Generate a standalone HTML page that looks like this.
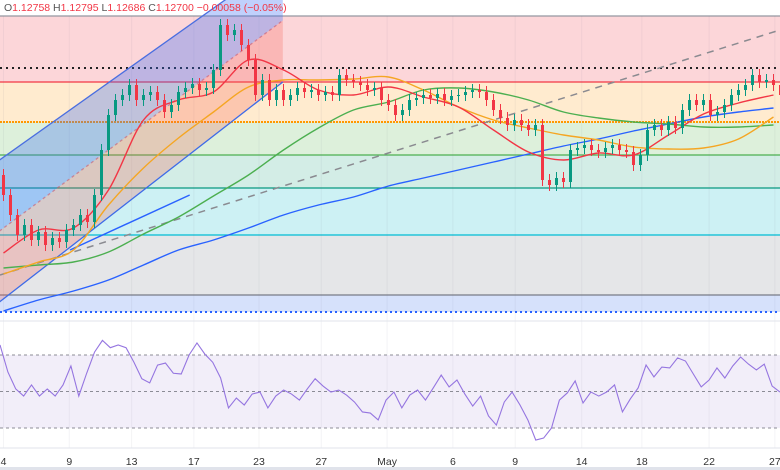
<!DOCTYPE html>
<html><head><meta charset="utf-8"><style>
html,body{margin:0;padding:0;background:#fff;width:780px;height:470px;overflow:hidden}
svg{display:block;font-family:"Liberation Sans",sans-serif}
</style></head><body>
<svg id="chart" width="780" height="470" viewBox="0 0 780 470" xmlns="http://www.w3.org/2000/svg">
<g id="bands"></g>
<g id="grid"></g>
<g id="channel"></g>
<g id="mas"></g>
<g id="candles"></g>
<g id="rsi"></g>
<g id="xaxis"></g>
<text x="4" y="11" font-size="10.5" fill="#f23645"><tspan fill="#555">O</tspan>1.12758 <tspan fill="#555">H</tspan>1.12795 <tspan fill="#555">L</tspan>1.12686 <tspan fill="#555">C</tspan>1.12700 −0.00058 (−0.05%)</text>
</svg>
<script>
const closes=[1.1121,1.1101,1.1081,1.1091,1.1076,1.1084,1.1071,1.1078,1.1074,1.1086,1.1091,1.1101,1.1094,1.1121,1.1166,1.1201,1.1216,1.1221,1.1231,1.1216,1.1221,1.1224,1.1216,1.1204,1.1211,1.1224,1.1228,1.1232,1.1226,1.1228,1.1246,1.1291,1.1281,1.1286,1.1271,1.1256,1.1221,1.1236,1.1216,1.1226,1.1216,1.1221,1.1228,1.1224,1.1226,1.1221,1.1224,1.1221,1.1241,1.1236,1.1234,1.1231,1.1226,1.1228,1.1216,1.1211,1.1201,1.1206,1.1216,1.1218,1.1221,1.1218,1.1222,1.1216,1.1220,1.1221,1.1224,1.1226,1.1224,1.1216,1.1206,1.1198,1.1191,1.1196,1.1191,1.1186,1.1191,1.1136,1.1131,1.1138,1.1134,1.1166,1.1168,1.1171,1.1166,1.1164,1.1168,1.1171,1.1166,1.1164,1.1151,1.1161,1.1186,1.1191,1.1186,1.1194,1.1188,1.1206,1.1216,1.1211,1.1216,1.1201,1.1204,1.1211,1.1221,1.1226,1.1231,1.1241,1.1234,1.1236,1.1231,1.1221];
const firstOpen=1.1141;
const maRed=[1.1063,1.1086,1.1088,1.1126,1.1196,1.1216,1.1224,1.1256,1.1246,1.1226,1.1221,1.1229,1.1219,1.1209,1.1186,1.1164,1.1156,1.1163,1.1161,1.1181,1.1202,1.1213,1.1221];
const maOrange=[1.1042,1.1054,1.1066,1.1111,1.1148,1.1178,1.1204,1.1229,1.1236,1.1236,1.1237,1.1239,1.1226,1.1209,1.1196,1.1188,1.1181,1.1176,1.1169,1.1167,1.1168,1.1177,1.1199];
const maGreen=[1.1048,1.1051,1.1054,1.1064,1.1082,1.1099,1.1120,1.1141,1.1166,1.1188,1.1206,1.1214,1.1226,1.1228,1.1224,1.1216,1.1204,1.1198,1.1194,1.1192,1.1189,1.1189,1.1191];
const maBlue=[1.1005,1.1016,1.1025,1.1036,1.1051,1.1066,1.1076,1.1088,1.1101,1.1111,1.1119,1.1130,1.1138,1.1146,1.1154,1.1162,1.1170,1.1177,1.1185,1.1192,1.1199,1.1204,1.1208];
const fibLevels=[1.1300,1.1234,1.1194,1.1161,1.1128,1.1081,1.1021,1.1004];
const dottedLevel=1.1248;
const rsiValues=[75.5,60.7,51.4,47.5,53.6,47.5,51.4,47.5,53.6,64,47.5,60,71.6,78,74,75.5,74,66,57,54.7,64.5,65.6,60,59.6,70,76.6,70.5,66,57.4,41,46.4,42.6,48.6,49.7,41,47.5,50.8,48.6,45.3,51.4,57,53,49.7,50.8,48,44.2,38.8,38.2,34.4,45.3,49.7,41,48,50.8,45.3,52,59,52.5,56.3,48.6,42,47.5,36.6,31.6,44.2,49.7,42.6,34.4,23.4,24.5,30,45.3,49.2,55.8,43.7,49.7,47.5,49.7,53.6,38.8,45.9,52,64.5,58,63.4,62.9,68.4,66.7,59.6,52.5,56.3,62.9,57.4,64,68.9,65,61.8,65,53,49.7];
const dateLabels=["4","9","13","17","23","27","May","6","9","14","18","22","27"];
const dateIdx=[0,9.4,18.3,27.2,36.5,45.4,54.8,64.2,73.1,82.6,91.2,100.8,110.2];

const NS="http://www.w3.org/2000/svg";
const step=7, x0=3.5;
const X=i=>x0+i*step;
const Y=v=>(1.1316-v)*10000;
const RY=r=>428-(r-30)*73/40;
function mk(tag,attrs,parent){const e=document.createElementNS(NS,tag);for(const k in attrs)e.setAttribute(k,attrs[k]);parent.appendChild(e);return e;}
function smooth(pts){let d=`M${pts[0][0]},${pts[0][1]}`;for(let i=0;i<pts.length-1;i++){const p0=pts[Math.max(0,i-1)],p1=pts[i],p2=pts[i+1],p3=pts[Math.min(pts.length-1,i+2)];
d+=` C${p1[0]+(p2[0]-p0[0])/6},${p1[1]+(p2[1]-p0[1])/6} ${p2[0]-(p3[0]-p1[0])/6},${p2[1]-(p3[1]-p1[1])/6} ${p2[0]},${p2[1]}`;}return d;}

const bands=document.getElementById('bands');
const bandCols=["#fcd6d9","#ffebcf","#ddf0db","#d3ede6","#cdf1f4","#e5e6e8","#d6e1fb"];
const lineCols=["#9598a1","#f23645","#ff9800","#4caf50","#089981","#00bcd4","#787b86","#2962ff"];
for(let k=0;k<bandCols.length;k++){
  const r=mk('rect',{x:0,y:Y(fibLevels[k]),width:780,height:Y(fibLevels[k+1])-Y(fibLevels[k]),fill:bandCols[k]},bands);
  
  
}
for(let k=0;k<fibLevels.length;k++){
  const a={x1:0,x2:780,y1:Y(fibLevels[k]),y2:Y(fibLevels[k]),stroke:lineCols[k],'stroke-width':k==2?2:1.3};
  if(k==2)a['stroke-dasharray']='2 1';
  if(k==7){a['stroke-dasharray']='2 3';a['stroke-width']=2;}
  const l=mk('line',a,bands);
  
  
}
const dl=mk('line',{x1:0,x2:780,y1:Y(dottedLevel),y2:Y(dottedLevel),stroke:'#222','stroke-width':2,'stroke-dasharray':'2 4'},bands);



const grid=document.getElementById('grid');
dateIdx.forEach(i=>{const g=mk('line',{x1:X(i),x2:X(i),y1:16,y2:448,stroke:'rgba(120,120,140,0.08)'},grid);

});

const ch=document.getElementById('channel');
const cu0=1.1156,cu1=1.1357,cl0=1.1014,cl1=1.1234,ce=39.9;
const cm0=(cu0+cl0)/2,cm1=(cu1+cl1)/2;
const up=mk('polygon',{points:`${X(0)-4},${Y(cu0)} ${X(ce)},${Y(cu1)} ${X(ce)},${Y(cm1)} ${X(0)-4},${Y(cm0)}`,fill:'rgba(60,110,245,0.32)'},ch);


const lo=mk('polygon',{points:`${X(0)-4},${Y(cm0)} ${X(ce)},${Y(cm1)} ${X(ce)},${Y(cl1)} ${X(0)-4},${Y(cl0)}`,fill:'rgba(242,90,80,0.25)'},ch);


[[cu0,cu1,'#4a6ee0',''],[cl0,cl1,'#3d6be8',''],[cm0,cm1,'rgba(200,90,110,0.6)','3 3']].forEach(c=>{
  const l=mk('line',{x1:X(0)-4,y1:Y(c[0]),x2:X(ce),y2:Y(c[1]),stroke:c[2],'stroke-width':1.3,'stroke-dasharray':c[3]},ch);
  
  
});
const tl=mk('line',{x1:0,y1:Y(1.1041),x2:780,y2:Y(1.1286),stroke:'#8a8a90','stroke-width':1.5,'stroke-dasharray':'7 6'},ch);


const sb=mk('line',{x1:X(9.5),y1:Y(1.1066),x2:X(26.6),y2:Y(1.1121),stroke:'#2962ff','stroke-width':1.5},ch);



const mas=document.getElementById('mas');
[[maBlue,'#2962ff','ma-200'],[maGreen,'#4caf50','ma-100'],[maOrange,'#f5a623','ma-50'],[maRed,'#f23645','ma-20']].forEach(m=>{
  const pts=m[0].map((v,k)=>[X(k*5),Y(v)]);
  const p=mk('path',{d:smooth(pts),fill:'none',stroke:m[1],'stroke-width':1.4},mas);
  
  
});

const cg=document.getElementById('candles');
closes.forEach((c,i)=>{
  const o=i==0?firstOpen:closes[i-1];
  const hi=Math.max(o,c)+0.0006, lo2=Math.min(o,c)-0.0006;
  const col=c>=o?'#089981':'#f23645';
  const w=mk('line',{x1:X(i),x2:X(i),y1:Y(hi),y2:Y(lo2),stroke:col,'stroke-width':1},cg);
  
  
  const b=mk('rect',{x:X(i)-1.5,y:Math.min(Y(o),Y(c)),width:3,height:Math.max(1,Math.abs(Y(o)-Y(c))),fill:col},cg);
  
  
});

const rg=document.getElementById('rsi');
const sep=mk('line',{x1:0,x2:780,y1:321,y2:321,stroke:'#e0e3eb'},rg);


const rb=mk('rect',{x:0,y:RY(70),width:780,height:RY(30)-RY(70),fill:'rgba(126,87,194,0.1)'},rg);


[70,50,30].forEach(v=>{const l=mk('line',{x1:0,x2:780,y1:RY(v),y2:RY(v),stroke:'#8c8c96','stroke-dasharray':'3 3'},rg);

});
const rstep=780/(rsiValues.length-1);
const rl=mk('polyline',{points:rsiValues.map((v,k)=>`${k*rstep},${RY(v)}`).join(' '),fill:'none',stroke:'#9575e0','stroke-width':1.1},rg);



const xa=document.getElementById('xaxis');
const ax=mk('line',{x1:0,x2:780,y1:448,y2:448,stroke:'#e0e3eb'},xa);


dateLabels.forEach((t,k)=>{const e=mk('text',{x:X(dateIdx[k]),y:465,'font-size':10.5,fill:'#333','text-anchor':'middle'},xa);e.textContent=t;

});
const bar=mk('rect',{x:0,y:467,width:780,height:3,fill:'#e0e3eb'},xa);


</script>
</body></html>
